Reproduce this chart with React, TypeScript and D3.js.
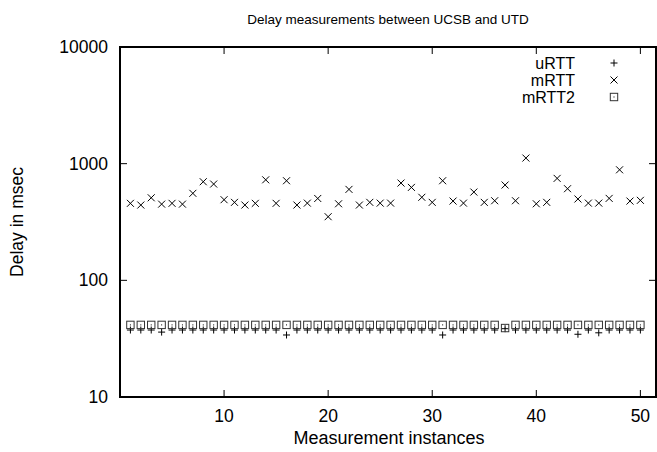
import React, { useRef, useEffect } from 'react';
import * as d3 from 'd3';

// measurement index 1..50
const instances = d3.range(1, 51);

const mRTT = [
  457, 442, 510, 450, 457, 450, 557, 700, 669, 491,
  466, 442, 457, 727, 457, 714, 442, 459, 503, 351,
  453, 602, 442, 466, 459, 459, 682, 626, 515, 466,
  714, 478, 459, 571, 466, 481, 656, 481, 1117, 453,
  466, 748, 610, 498, 459, 459, 504, 886, 478, 485,
];

const uRTT = [
  37.5, 37.5, 37.5, 36, 37.5, 37.5, 37.5, 37.5, 37.5, 37.5,
  37.5, 37.5, 37.5, 37.5, 37.5, 34, 37.5, 37.5, 37.5, 37.5,
  37.5, 37.5, 37.5, 37.5, 37.5, 37.5, 37.5, 37.5, 37.5, 37.5,
  34, 37.5, 37.5, 37.5, 37.5, 37.5, 38.5, 37.5, 37.5, 37.5,
  37.5, 37.5, 37.5, 34.5, 37.5, 35.5, 37.5, 37.5, 37.5, 37.5,
];

const mRTT2 = [
  41.5, 41.5, 41.5, 41.5, 41.5, 41.5, 41.5, 41.5, 41.5, 41.5,
  41.5, 41.5, 41.5, 41.5, 41.5, 41.5, 41.5, 41.5, 41.5, 41.5,
  41.5, 41.5, 41.5, 41.5, 41.5, 41.5, 41.5, 41.5, 41.5, 41.5,
  41.5, 41.5, 41.5, 41.5, 41.5, 41.5, 39, 41.5, 41.5, 41.5,
  41.5, 41.5, 41.5, 41.5, 41.5, 41.5, 41.5, 41.5, 41.5, 41.5,
];

const xTicks = [10, 20, 30, 40, 50];
const yTicks = [10, 100, 1000, 10000];
const legendLabels = ['uRTT', 'mRTT', 'mRTT2'];

const App = () => {
  const ref = useRef<SVGSVGElement>(null);

  useEffect(() => {
    const svg = d3.select(ref.current);
    svg.selectAll('*').remove();

    const width = 657;
    const height = 452;
    const margin = { top: 47, right: 1, bottom: 55, left: 120 };
    const font = 'Liberation Sans, Arial, Helvetica, sans-serif';

    const x = d3.scaleLinear()
      .domain([0, 51.5])
      .range([margin.left, width - margin.right]);

    const y = d3.scaleLog()
      .domain([10, 10000])
      .range([height - margin.bottom, margin.top]);

    const x0 = x.range()[0], x1 = x.range()[1];
    const y0 = y.range()[0], y1 = y.range()[1];

    // title (smaller than the axis text)
    svg.append('text')
      .attr('x', 388).attr('y', 24)
      .attr('text-anchor', 'middle')
      .style('font-family', font).style('font-size', '13.5px')
      .text('Delay measurements between UCSB and UTD');

    // axis labels
    svg.append('text')
      .attr('x', 389).attr('y', 444)
      .attr('text-anchor', 'middle')
      .style('font-family', font).style('font-size', '18px')
      .text('Measurement instances');

    svg.append('text')
      .attr('transform', `translate(23,${(y0 + y1) / 2}) rotate(-90)`)
      .attr('text-anchor', 'middle')
      .style('font-family', font).style('font-size', '17.5px')
      .text('Delay in msec');

    const g = svg.append('g').attr('stroke', '#000').attr('fill', 'none');

    // ticks, mirrored inwards on all sides
    const tick = 7;
    xTicks.forEach(t => {
      g.append('line').attr('x1', x(t)).attr('x2', x(t)).attr('y1', y0).attr('y2', y0 - tick);
      g.append('line').attr('x1', x(t)).attr('x2', x(t)).attr('y1', y1).attr('y2', y1 + tick);
    });
    yTicks.forEach(t => {
      g.append('line').attr('x1', x0).attr('x2', x0 + tick).attr('y1', y(t)).attr('y2', y(t));
      g.append('line').attr('x1', x1).attr('x2', x1 - tick).attr('y1', y(t)).attr('y2', y(t));
    });

    // border
    g.append('rect')
      .attr('x', x0).attr('y', y1)
      .attr('width', x1 - x0).attr('height', y0 - y1)
      .attr('stroke-width', 2);

    svg.append('g')
      .selectAll('text')
      .data(xTicks)
      .join('text')
      .attr('x', d => x(d))
      .attr('y', y0 + 25)
      .attr('text-anchor', 'middle')
      .style('font-family', font).style('font-size', '17.5px')
      .text(d => d);

    svg.append('g')
      .selectAll('text')
      .data(yTicks)
      .join('text')
      .attr('x', x0 - 12)
      .attr('y', d => y(d) + 6)
      .attr('text-anchor', 'end')
      .style('font-family', font).style('font-size', '17.5px')
      .text(d => d);

    // point shapes
    const s = 3.5;
    const plus = (sel, cx, cy) => sel.append('path')
      .attr('d', `M${cx - s},${cy}H${cx + s}M${cx},${cy - s}V${cy + s}`);
    const cross = (sel, cx, cy) => sel.append('path')
      .attr('d', `M${cx - s},${cy - s}L${cx + s},${cy + s}M${cx - s},${cy + s}L${cx + s},${cy - s}`);
    const box = (sel, cx, cy) => {
      sel.append('rect').attr('x', cx - 3.7).attr('y', cy - 3.7).attr('width', 7.4).attr('height', 7.4);
      sel.append('rect').attr('x', cx - 0.5).attr('y', cy - 0.5).attr('width', 1).attr('height', 1)
        .attr('fill', '#000').attr('stroke', 'none');
    };

    const pts = svg.append('g').attr('stroke', '#000').attr('stroke-width', 1).attr('fill', 'none');
    instances.forEach((n, i) => plus(pts, x(n), y(uRTT[i])));
    instances.forEach((n, i) => cross(pts, x(n), y(mRTT[i])));
    const boxes = svg.append('g').attr('stroke', '#333').attr('stroke-width', 1).attr('fill', 'none');
    instances.forEach((n, i) => box(boxes, x(n), y(mRTT2[i])));

    // legend
    const shapes = [plus, cross, box];
    legendLabels.forEach((label, i) => {
      const ly = 63 + i * 17;
      svg.append('text')
        .attr('x', 575).attr('y', ly + 6)
        .attr('text-anchor', 'end')
        .style('font-family', font).style('font-size', '16px')
        .text(label);
      const lg = svg.append('g').attr('stroke', i === 2 ? '#333' : '#000').attr('fill', 'none');
      shapes[i](lg, 614, ly);
    });
  }, []);

  return (
    <div style={{ position: 'absolute', left: 0, top: 0 }}>
      <svg ref={ref} width={657} height={452} style={{ display: 'block', background: '#fff' }}></svg>
    </div>
  );
};

export default App;
